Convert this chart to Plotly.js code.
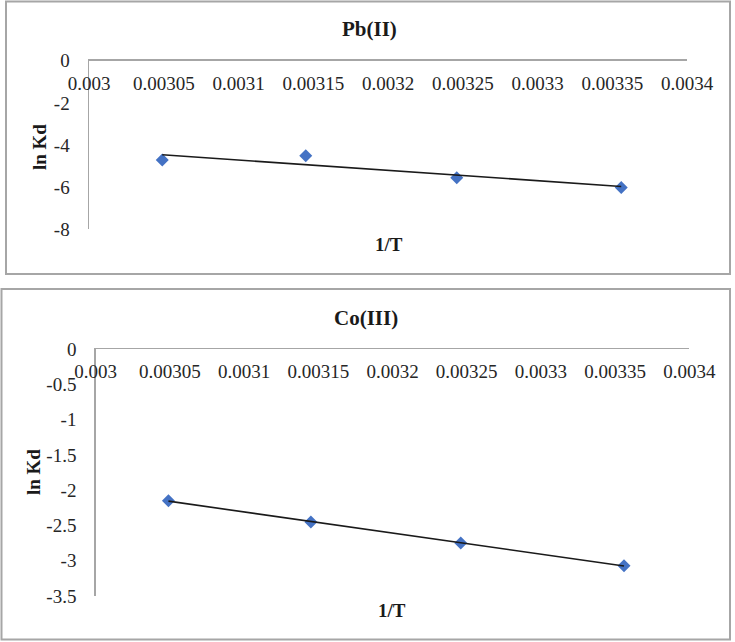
<!DOCTYPE html>
<html>
<head>
<meta charset="utf-8">
<script src="https://cdn.plot.ly/plotly-3.0.1.min.js"></script>
<style>html,body{margin:0;padding:0;background:#fff;}#chart{width:735px;height:642px;}</style>
</head>
<body>
<div id="chart"></div>
<script>
// ---- data ----
const invT = [0.003049, 0.003145, 0.003246, 0.003356];
const lnKdPb = [-4.71, -4.51, -5.55, -6.02];
const lnKdCo = [-2.15, -2.45, -2.75, -3.07];
const xTickVals = [0.003, 0.00305, 0.0031, 0.00315, 0.0032, 0.00325, 0.0033, 0.00335, 0.0034];
const xTickText = ['0.003', '0.00305', '0.0031', '0.00315', '0.0032', '0.00325', '0.0033', '0.00335', '0.0034'];
const yTickValsPb = [0, -2, -4, -6, -8];
const yTickTextPb = ['0', '-2', '-4', '-6', '-8'];
const yTickValsCo = [0, -0.5, -1, -1.5, -2, -2.5, -3, -3.5];
const yTickTextCo = ['0', '-0.5', '-1', '-1.5', '-2', '-2.5', '-3', '-3.5'];
const titles = ['Pb(II)', 'Co(III)'];
const yTitle = 'ln Kd';
const xTitle = '1/T';

// linear least-squares trendline (as Excel's linear trendline)
function trend(xs, ys) {
  const n = xs.length;
  const mx = xs.reduce((a, b) => a + b, 0) / n;
  const my = ys.reduce((a, b) => a + b, 0) / n;
  let sxy = 0, sxx = 0;
  for (let i = 0; i < n; i++) { sxy += (xs[i] - mx) * (ys[i] - my); sxx += (xs[i] - mx) ** 2; }
  const m = sxy / sxx, c = my - m * mx;
  const x0 = Math.min(...xs), x1 = Math.max(...xs);
  return { x: [x0, x1], y: [m * x0 + c, m * x1 + c] };
}

const W = 735, H = 642;
const px = v => v / W;
const py = v => 1 - v / H;

const FONT = '"Liberation Serif", "Times New Roman", serif';
const markerColor = '#4472C4';
const textColor = '#262626';

const tPb = trend(invT, lnKdPb);
const tCo = trend(invT, lnKdCo);

const data = [
  { x: invT, y: lnKdPb, mode: 'markers', type: 'scatter', xaxis: 'x', yaxis: 'y',
    marker: { symbol: 'diamond', size: 10, color: markerColor }, showlegend: false, hoverinfo: 'x+y' },
  { x: tPb.x, y: tPb.y, mode: 'lines', type: 'scatter', xaxis: 'x', yaxis: 'y',
    line: { color: '#1a1a1a', width: 1.6 }, showlegend: false, hoverinfo: 'skip' },
  { x: invT, y: lnKdCo, mode: 'markers', type: 'scatter', xaxis: 'x2', yaxis: 'y2',
    marker: { symbol: 'diamond', size: 10, color: markerColor }, showlegend: false, hoverinfo: 'x+y' },
  { x: tCo.x, y: tCo.y, mode: 'lines', type: 'scatter', xaxis: 'x2', yaxis: 'y2',
    line: { color: '#1a1a1a', width: 1.6 }, showlegend: false, hoverinfo: 'skip' }
];

const axisLine = '#a6a6a6';
function xAxis(domain, anchor) {
  return {
    domain: domain, anchor: anchor, side: 'top', range: [0.003, 0.0034],
    tickmode: 'array', tickvals: xTickVals, ticktext: xTickText,
    ticklabelposition: 'inside', ticklabelstandoff: 17, ticklabeloverflow: 'allow',
    showline: true, linecolor: axisLine, linewidth: 1.5, showgrid: false, zeroline: false,
    ticks: '', tickfont: { family: FONT, size: 19, color: textColor }, fixedrange: true
  };
}
function yAxis(domain, anchor, range, vals, text) {
  return {
    domain: domain, anchor: anchor, range: range,
    tickmode: 'array', tickvals: vals, ticktext: text, ticklabelstandoff: 14, ticklabeloverflow: 'allow',
    showline: true, linecolor: axisLine, linewidth: 1.5, showgrid: false, zeroline: false,
    ticks: '', tickfont: { family: FONT, size: 19, color: textColor }, fixedrange: true
  };
}

function ann(text, x, y, size, angle) {
  return { text: '<b>' + text + '</b>', xref: 'paper', yref: 'paper', x: px(x), y: py(y),
    xanchor: 'center', yanchor: 'middle', textangle: angle || 0, showarrow: false,
    font: { family: FONT, size: size, color: '#1a1a1a' } };
}

const layout = {
  width: W, height: H, margin: { l: 0, r: 0, t: 0, b: 0 },
  font: { family: FONT, color: textColor },
  paper_bgcolor: '#ffffff', plot_bgcolor: 'rgba(0,0,0,0)', showlegend: false,
  xaxis: xAxis([px(89), px(687)], 'y'),
  yaxis: yAxis([py(229.3), py(60.7)], 'x', [-8, 0], yTickValsPb, yTickTextPb),
  xaxis2: xAxis([px(95.7), px(689.3)], 'y2'),
  yaxis2: yAxis([py(596), py(349)], 'x2', [-3.5, 0], yTickValsCo, yTickTextCo),
  shapes: [
    { type: 'rect', xref: 'paper', yref: 'paper', x0: px(6), x1: px(730), y0: py(274), y1: py(1.5),
      line: { color: '#a6a6a6', width: 2 } },
    { type: 'rect', xref: 'paper', yref: 'paper', x0: px(1.5), x1: px(730), y0: py(639.5), y1: py(289),
      line: { color: '#a6a6a6', width: 2 } }
  ],
  annotations: [
    ann(titles[0], 369, 29, 21),
    ann(titles[1], 366, 318, 21),
    ann(yTitle, 40, 147, 19, -90),
    ann(yTitle, 33, 472, 19, -90),
    ann(xTitle, 389, 244, 19),
    ann(xTitle, 392, 610, 19)
  ]
};

Plotly.newPlot('chart', data, layout, { staticPlot: true, displayModeBar: false });
</script>
</body>
</html>
